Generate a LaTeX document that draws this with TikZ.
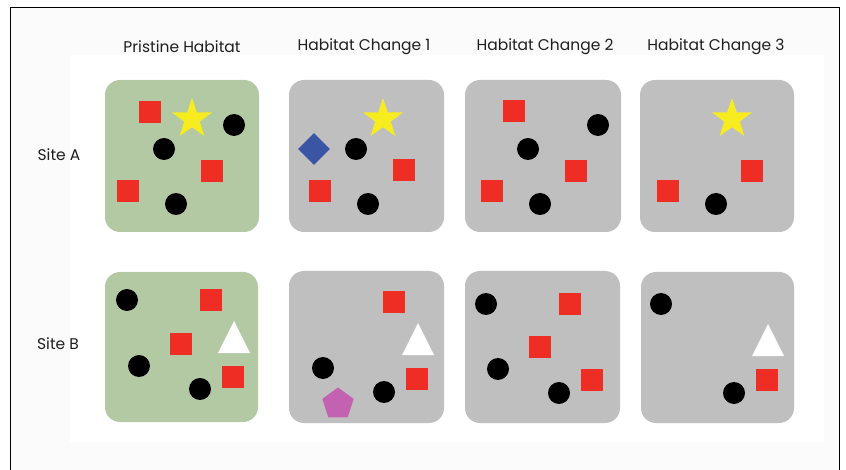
\documentclass[tikz,border=0pt]{standalone}
\usepackage{fontspec}
\setmainfont{Poppins}
\usetikzlibrary{shapes.geometric}

\definecolor{habgreen}{HTML}{B2C9A4}
\definecolor{habgray}{HTML}{BFBFBF}
\definecolor{sqred}{HTML}{EE2E24}
\definecolor{staryellow}{HTML}{F6EC1F}
\definecolor{diablue}{HTML}{3B55A5}
\definecolor{pentpink}{HTML}{C262B1}
\definecolor{offwhite}{HTML}{FBFBFB}

\tikzset{
  panel/.style={rounded corners=15pt},
  redsq/.style={fill=sqred, minimum size=22pt, inner sep=0pt},
  blackdot/.style={circle, fill=black, minimum size=22pt, inner sep=0pt},
  yellowstar/.style={star, star points=5, star point ratio=2.55, fill=staryellow, minimum size=42pt, inner sep=0pt},
  bluediamond/.style={diamond, fill=diablue, minimum size=32pt, inner sep=0pt},
  pinkpent/.style={regular polygon, regular polygon sides=5, fill=pentpink, minimum size=33pt, inner sep=0pt},
  whitetri/.style={fill=white},
  heading/.style={font=\fontsize{15.5}{18}\selectfont, text=black!88},
}

\begin{document}
\begin{tikzpicture}[x=1pt, y=-1pt]
    \useasboundingbox (0,0) rectangle (846,470);
    % background and frame
    \fill[offwhite] (10,8) rectangle (839,470);
    \fill[white] (70,55) rectangle (824,442);
    \draw[line width=1pt] (10,470) -- (10,8) -- (839,8) -- (839,470);

    % column and row titles
    \node[heading] (hpr) at (182,47) {Pristine Habitat};
    \node[heading] (hc1) at (364,47) {Habitat Change 1};
    \node[heading] (hc2) at (545,47) {Habitat Change 2};
    \node[heading] (hc3) at (716,47) {Habitat Change 3};
    \node[heading] (sa) at (59,155) {Site A};
    \node[heading] (sb) at (58,344) {Site B};

    % panels
    \fill[panel, habgreen] (105,80) rectangle (259,232);
    \fill[panel, habgray] (289,80) rectangle (444,232);
    \fill[panel, habgray] (465,80) rectangle (621,232);
    \fill[panel, habgray] (640,80) rectangle (794,232);
    \fill[panel, habgreen] (105,272) rectangle (258,422);
    \fill[panel, habgray] (289,271) rectangle (444,423);
    \fill[panel, habgray] (465,271) rectangle (620,423);
    \fill[panel, habgray] (641,272) rectangle (794,423);

    % site A, pristine
    \node[redsq] (a0s1) at (150,112) {};
    \node[yellowstar] (a0st) at (192,119) {};
    \node[blackdot] (a0d1) at (234,125) {};
    \node[blackdot] (a0d2) at (164,149) {};
    \node[redsq] (a0s2) at (212,171) {};
    \node[redsq] (a0s3) at (128,191) {};
    \node[blackdot] (a0d3) at (176,204) {};

    % site A, change 1
    \node[yellowstar] (a1st) at (383,119) {};
    \node[bluediamond] (a1di) at (314,149) {};
    \node[blackdot] (a1d1) at (356,149) {};
    \node[redsq] (a1s1) at (404,170) {};
    \node[redsq] (a1s2) at (320,191) {};
    \node[blackdot] (a1d2) at (368,204) {};

    % site A, change 2
    \node[redsq] (a2s1) at (514,111) {};
    \node[blackdot] (a2d1) at (598,125) {};
    \node[blackdot] (a2d2) at (528,149) {};
    \node[redsq] (a2s2) at (576,171) {};
    \node[redsq] (a2s3) at (492,191) {};
    \node[blackdot] (a2d3) at (540,204) {};

    % site A, change 3
    \node[yellowstar] (a3st) at (732,119) {};
    \node[redsq] (a3s1) at (752,171) {};
    \node[redsq] (a3s2) at (668,191) {};
    \node[blackdot] (a3d1) at (716,204) {};

    % site B, pristine
    \node[blackdot] (b0d1) at (127,300) {};
    \node[redsq] (b0s1) at (211,300) {};
    \node[redsq] (b0s2) at (181,344) {};
    \fill[whitetri] (234,321) -- (250,353) -- (218,353) -- cycle;
    \node[blackdot] (b0d2) at (139,366) {};
    \node[redsq] (b0s3) at (233,377) {};
    \node[blackdot] (b0d3) at (200,389) {};

    % site B, change 1
    \node[redsq] (b1s1) at (394,302) {};
    \fill[whitetri] (418,323) -- (434,355) -- (402,355) -- cycle;
    \node[blackdot] (b1d1) at (323,368) {};
    \node[redsq] (b1s2) at (417,379) {};
    \node[blackdot] (b1d2) at (384,392) {};
    \node[pinkpent] (b1pe) at (338,404) {};

    % site B, change 2
    \node[blackdot] (b2d1) at (486,304) {};
    \node[redsq] (b2s1) at (570,304) {};
    \node[redsq] (b2s2) at (540,347) {};
    \node[blackdot] (b2d2) at (498,369) {};
    \node[blackdot] (b2d3) at (559,393) {};
    \node[redsq] (b2s3) at (592,380) {};

    % site B, change 3
    \node[blackdot] (b3d1) at (661,304) {};
    \fill[whitetri] (768,324) -- (784,356) -- (752,356) -- cycle;
    \node[redsq] (b3s1) at (767,380) {};
    \node[blackdot] (b3d2) at (734,393) {};
\end{tikzpicture}
\end{document}
